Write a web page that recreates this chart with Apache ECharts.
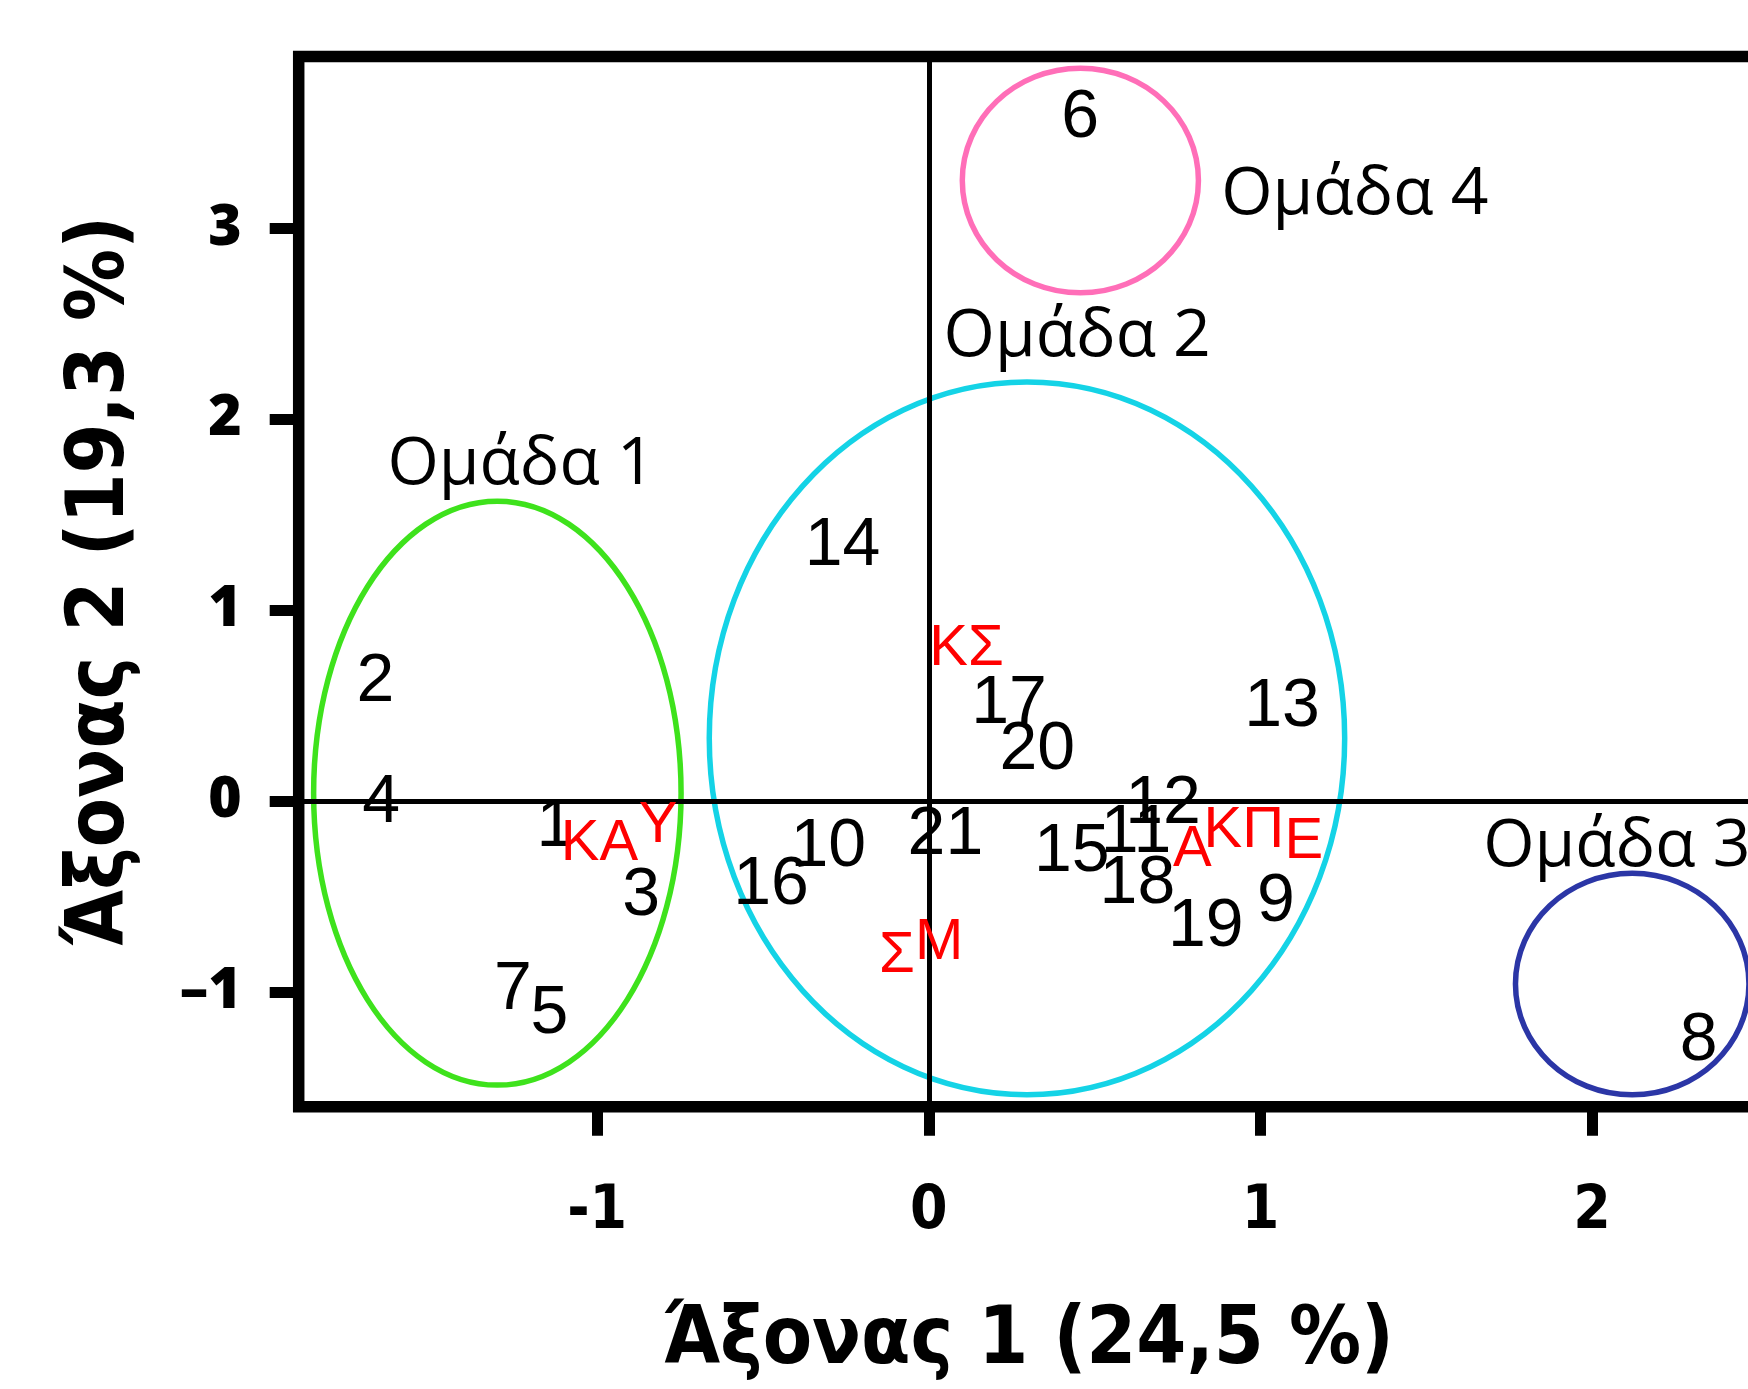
<!DOCTYPE html>
<html><head><meta charset="utf-8">
<style>html,body{margin:0;padding:0;background:#fff}#c{width:1748px;height:1389px}</style>
<script src="https://cdn.jsdelivr.net/npm/echarts@6/dist/echarts.min.js"></script>
</head><body><div id="c"></div>
<script>
// ---- data ----
const xTicks = [-1, 0, 1, 2];
const yTicks = [-1, 0, 1, 2, 3];
const xTitle = 'Άξονας 1 (24,5 %)';
const yTitle = 'Άξονας 2 (19,3 %)';

const pointNames = ['1','2','3','4','5','6','7','8','9','10','11','12','13','14','15','16','17','18','19','20','21'];
const pointX = [-1.126, -1.669, -0.867, -1.651, -1.144, 0.456, -1.254, 2.321, 1.047, -0.303, 0.625, 0.706, 1.065, -0.260, 0.431, -0.476, 0.242, 0.629, 0.835, 0.327, 0.050];
const pointY = [-0.114, 0.645, -0.476, 0.008, -1.096, 3.595, -0.968, -1.235, -0.507, -0.223, -0.147, 0.006, 0.512, 1.357, -0.247, -0.417, 0.529, -0.413, -0.639, 0.290, -0.160];

const varNames = ['ΚΑ', 'Υ', 'ΚΣ', 'Σ', 'Μ', 'Α', 'ΚΠ', 'Ε'];
const varX = [-0.993, -0.816, 0.114, -0.096, 0.031, 0.795, 0.950, 1.131];
const varY = [-0.211, -0.114, 0.810, -0.797, -0.729, -0.242, -0.142, -0.198];

const groupNames = ['Ομάδα 1', 'Ομάδα 2', 'Ομάδα 3', 'Ομάδα 4'];
const groupCX = [-1.301, 0.296, 2.121, 0.457];
const groupCY = [0.042, 0.329, -0.958, 3.250];
const groupRX = [0.554, 0.958, 0.352, 0.356];
const groupRY = [1.529, 1.866, 0.580, 0.588];
const groupLabelX = [-1.634, 0.043, 1.670, 0.880];
const groupLabelY = [1.773, 2.444, -0.224, 3.191];

// ---- styles ----
const groupColors = ['#3ee21c', '#14d3e6', '#2b36a6', '#ff6eb8'];
const NUM_FONT = "'Liberation Sans', Arial, sans-serif";
const GRP_FONT = "'Open Sans', 'Noto Sans', sans-serif";
const COND_FONT = "'Liberation Sans Narrow', 'DejaVu Sans Condensed', 'Open Sans', sans-serif";

const chart = echarts.init(document.getElementById('c'), null, {renderer: 'canvas'});

const ellipseData = groupNames.map((n, i) => [groupCX[i], groupCY[i], groupRX[i], groupRY[i]]);
const hidden = {color: 'rgba(0,0,0,0)', opacity: 1};

chart.setOption({
  animation: false,
  backgroundColor: '#fff',
  grid: {
    left: 298.7, top: 56.4, width: 1459.2, height: 1050.3,
    show: true, borderColor: '#000', borderWidth: 11.5, backgroundColor: 'transparent',
    containLabel: false, outerBoundsMode: 'none'
  },
  xAxis: {
    type: 'value', min: -1.9, max: 2.5,
    name: xTitle, nameLocation: 'middle', nameGap: 236,
    nameTextStyle: {fontFamily: COND_FONT, fontWeight: 'bold', fontSize: 80, color: '#000', verticalAlign: 'middle'},
    axisLine: {show: false, onZero: false},
    splitLine: {show: false},
    axisTick: {show: true, inside: false, length: 29, customValues: xTicks, lineStyle: {color: '#000', width: 11}},
    axisLabel: {show: true, customValues: xTicks, margin: 106, verticalAlign: 'middle',
      fontFamily: COND_FONT, fontWeight: 'bold', fontSize: 60, color: '#000'}
  },
  yAxis: {
    type: 'value', min: -1.6, max: 3.9,
    name: yTitle, nameLocation: 'middle', nameGap: 196, nameRotate: 90,
    nameTextStyle: {fontFamily: COND_FONT, fontWeight: 'bold', fontSize: 80, color: '#000', verticalAlign: 'middle'},
    axisLine: {show: false, onZero: false},
    splitLine: {show: false},
    axisTick: {show: true, inside: false, length: 29, customValues: yTicks, lineStyle: {color: '#000', width: 11}},
    axisLabel: {show: true, customValues: yTicks, margin: 57,
      formatter: v => (v < 0 ? '–' + Math.abs(v) : String(v)),
      fontFamily: "'Open Sans', sans-serif", fontWeight: 800, fontSize: 57, color: '#000'}
  },
  series: [
    {
      type: 'custom',
      clip: false,
      silent: true,
      z: 3,
      data: ellipseData,
      encode: {x: 0, y: 1},
      renderItem: function (params, api) {
        const c = api.coord([api.value(0), api.value(1)]);
        const s = api.size([api.value(2), api.value(3)]);
        return {
          type: 'ellipse',
          shape: {cx: c[0], cy: c[1], rx: s[0], ry: s[1]},
          style: {fill: 'none', stroke: groupColors[params.dataIndex], lineWidth: 5.5}
        };
      }
    },
    {
      type: 'scatter',
      z: 4,
      symbolSize: 1,
      itemStyle: hidden,
      data: pointNames.map((n, i) => ({name: n, value: [pointX[i], pointY[i]]})),
      label: {show: true, position: 'inside', formatter: p => p.name, offset: [0, 4],
        fontFamily: NUM_FONT, fontSize: 68, color: '#000', opacity: 1, textBorderWidth: 0},
      markLine: {
        silent: true, symbol: 'none', animation: false,
        label: {show: false},
        lineStyle: {color: '#000', width: 5, type: 'solid', opacity: 1},
        data: [{xAxis: 0}, {yAxis: 0}]
      }
    },
    {
      type: 'scatter',
      z: 5,
      symbolSize: 1,
      itemStyle: hidden,
      data: varNames.map((n, i) => ({name: n, value: [varX[i], varY[i]]})),
      label: {show: true, position: 'inside', formatter: p => p.name, offset: [0, 3],
        fontFamily: NUM_FONT, fontSize: 58, color: '#ff0000', opacity: 1, textBorderWidth: 0}
    },
    {
      type: 'scatter',
      z: 5,
      symbolSize: 1,
      itemStyle: hidden,
      data: groupNames.map((n, i) => ({name: n, value: [groupLabelX[i], groupLabelY[i]]})),
      label: {show: true, position: 'right', distance: 0, formatter: p => p.name, offset: [0, 3],
        fontFamily: GRP_FONT, fontSize: 66, color: '#000', opacity: 1, textBorderWidth: 0}
    }
  ]
});
</script>
</body></html>
